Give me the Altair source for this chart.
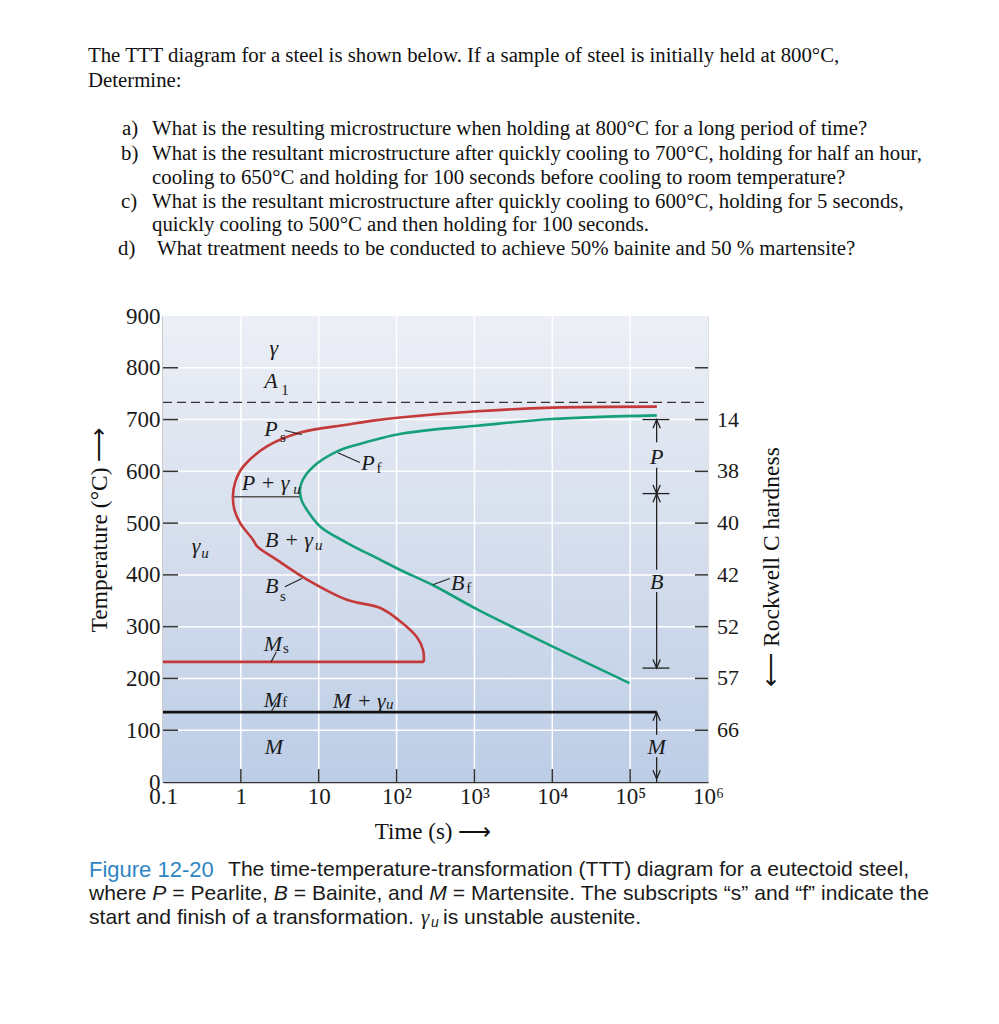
import altair as alt
import pandas as pd

# ---------------- data ----------------
# Pearlite start / bainite start curve (red), traced from upper right, round the nose, down to Ms
red_t = [2.2e5, 1.0e4, 1070, 110, 50, 23, 5.8, 2.16, 1.07, 0.85, 0.79, 0.83, 0.98, 1.43, 1.62, 2.9, 7.1, 23, 62, 110, 182, 219, 224]
red_T = [725, 723, 716, 704, 698, 690, 675, 648, 609, 580, 551, 525, 500, 468, 455, 429, 391, 352, 336, 311, 280, 255, 232]
# Pearlite finish / bainite finish curve (green)
green_t = [2.2e5, 1.0e4, 1070, 316, 110, 63, 32, 17, 8.5, 6.3, 5.75, 6.0, 7.1, 10.5, 23, 62, 110, 295, 1070, 1.0e4, 9.8e4]
green_T = [708, 701, 688, 681, 672, 664, 652, 638, 609, 585, 565, 545, 525, 493, 462, 429, 410, 380, 334, 262, 191]
A1_T = 733
Ms_T, Ms_end = 232, 224
Mf_T, Mf_end = 135, 2.19e5
nose_T, nose_t = 551, [0.79, 5.75]

time_ticks = [0.1, 1, 10, 100, 1000, 10000, 100000, 1000000]
time_labels = ["0.1", "1", "10", "10²", "10³", "10⁴", "10⁵", "10⁶"]
temp_ticks = [0, 100, 200, 300, 400, 500, 600, 700, 800, 900]
hard_T = [700, 600, 500, 400, 300, 200, 100]
hard_lbl = ["14", "38", "40", "42", "52", "57", "66"]

# labels inside the diagram: (text, time, temperature)
big_labels = [("γ", 2.66, 839), ("A", 2.43, 774), ("P", 2.43, 681), ("P", 42.9, 617),
              ("γ", 0.266, 455), ("B", 2.5, 379), ("B", 612, 385), ("M", 2.58, 267),
              ("M", 2.58, 159), ("M", 2.66, 68)]
left_labels = [("P + γ", 1.03, 578), ("B + γ", 2.04, 468), ("M + γ", 15.2, 157)]
sub_labels = [("1", 3.68, 758), ("s", 3.47, 667), ("f", 59.3, 607), ("s", 3.47, 360),
              ("f", 847, 375), ("s", 3.8, 258), ("f", 3.65, 154)]
sub_u = [(5.25, 566), (10.0, 457), (0.346, 443), (82, 150)]
leaders = [(3.68, 679, 6.08, 671), (17.6, 636, 33.8, 617), (3.68, 377, 6.08, 393),
           (292, 381, 483, 393), (2.45, 232, 2.85, 251), (2.45, 135, 2.85, 153)]

# microstructure bands on the right
ann_t = 2.19e5
ann_bar = [1.44e5, 3.2e5]
band_edges = [700, 557, 220]
band_segments = [(700, 656), (607, 557), (557, 410), (367, 220), (135, 91), (48, 0)]
band_labels = [("P", 627), ("B", 387), ("M", 68)]
arrow_up = [700, 557, 135]
arrow_down = [557, 220, 6]

# inward tick extents, in data units
left_tick_end = 0.156     # time reached by the left ticks
right_tick_start = 6.8e5  # time where the right ticks begin
bottom_tick_top = 25      # temperature reached by the bottom ticks

question = [
    ("The TTT diagram for a steel is shown below.  If a sample of steel is initially held at 800°C,", -75, -260),
    ("Determine:", -75, -235),
    ("a)", -41, -187), ("What is the resulting microstructure when holding at 800°C for a long period of time?", -11, -187),
    ("b)", -42, -162), ("What is the resultant microstructure after quickly cooling to 700°C, holding for half an hour,", -11, -162),
    ("cooling to 650°C and holding for 100 seconds before cooling to room temperature?", -11, -138),
    ("c)", -42, -114), ("What is the resultant microstructure after quickly cooling to 600°C, holding for 5 seconds,", -11, -114),
    ("quickly cooling to 500°C and then holding for 100 seconds.", -11, -91),
    ("d)", -45, -67), ("What treatment needs to be conducted to achieve 50% bainite and 50 % martensite?", -6, -67),
]
# caption pieces: (text, x, y, italic)
caption = [
    ("The time-temperature-transformation (TTT) diagram for a eutectoid steel,", 65, 554, False),
    ("where", -74, 578, False), ("P", -10.7, 578, True), ("= Pearlite,", 9.3, 578, False),
    ("B", 110.7, 578, True), ("= Bainite, and", 130.7, 578, False), ("M", 266.2, 578, True),
    ("= Martensite. The subscripts “s” and “f” indicate the", 289.7, 578, False),
    ("start and finish of a transformation.", -74, 602, False),
    ("is unstable austenite.", 280, 602, False),
]

# ---------------- styling ----------------
W, H = 545, 466
SERIF = "Liberation Serif"
SANS = "Liberation Sans"
RED = "#c43a3a"
GREEN = "#16a07a"
INK = "#1a1a1a"
FRAME = "#333333"

xs = alt.Scale(type="log", domain=[0.1, 1e6], nice=False)
ys = alt.Scale(domain=[0, 900], nice=False)

label_expr = "[" + ",".join("'%s'" % s for s in time_labels) + "][round(log(datum.value)/LN10)+1]"
xaxis = alt.Axis(values=time_ticks, labelExpr=label_expr, ticks=False, grid=False, title=None,
                 labelFlush=False, labelOverlap=False)
yaxis = alt.Axis(values=temp_ticks, ticks=False, grid=False, title=None,
                 labelFlush=False, labelOverlap=False)


def X(f="t"):
    return alt.X(f, type="quantitative", scale=xs, axis=xaxis)


def Y(f="T"):
    return alt.Y(f, type="quantitative", scale=ys, axis=yaxis)


gradient = alt.Gradient(gradient="linear", x1=0, x2=0, y1=0, y2=1,
                        stops=[alt.GradientStop(color="#eceff6", offset=0),
                               alt.GradientStop(color="#d3dcec", offset=0.55),
                               alt.GradientStop(color="#bccde6", offset=1)])

bg = alt.Chart(pd.DataFrame({"t": [0.1], "t2": [1e6], "T": [0], "T2": [900]})).mark_rect(
    fill=gradient).encode(x=X(), x2="t2", y=Y(), y2="T2")

inner_t = time_ticks[1:-1]
inner_T = temp_ticks[1:-1]
nT, nt = len(inner_T), len(inner_t)
vgrid = alt.Chart(pd.DataFrame({"t": inner_t, "T": [0] * nt, "T2": [900] * nt})).mark_rule(
    color="white", strokeWidth=1.5).encode(x=X(), y=Y(), y2="T2")
hgrid = alt.Chart(pd.DataFrame({"T": inner_T, "t": [0.1] * nT, "t2": [1e6] * nT})).mark_rule(
    color="white", strokeWidth=1.5).encode(y=Y(), x=X(), x2="t2")

bticks = alt.Chart(pd.DataFrame({"t": inner_t, "T": [0] * nt, "T2": [bottom_tick_top] * nt})).mark_rule(
    color=FRAME, strokeWidth=1.5).encode(x=X(), y=Y(), y2="T2")
lticks = alt.Chart(pd.DataFrame({"T": inner_T, "t": [0.1] * nT, "t2": [left_tick_end] * nT})).mark_rule(
    color=FRAME, strokeWidth=1.5).encode(y=Y(), x=X(), x2="t2")
rticks = alt.Chart(pd.DataFrame({"T": inner_T, "t": [right_tick_start] * nT, "t2": [1e6] * nT})).mark_rule(
    color=FRAME, strokeWidth=1.5).encode(y=Y(), x=X(), x2="t2")
rlabels = alt.Chart(pd.DataFrame({"T": hard_T, "lbl": hard_lbl})).mark_text(
    font=SERIF, fontSize=22, color=INK, align="left", baseline="middle").encode(
    y=Y(), x=alt.value(W + 9), text="lbl:N")

a1 = alt.Chart(pd.DataFrame({"t": [0.1], "t2": [1e6], "T": [A1_T]})).mark_rule(
    color=FRAME, strokeWidth=1.3, strokeDash=[9, 5]).encode(x=X(), x2="t2", y=Y())

red = alt.Chart(pd.DataFrame({"t": red_t, "T": red_T, "i": list(range(len(red_t)))})).mark_line(
    color=RED, strokeWidth=2.6, interpolate="catmull-rom").encode(x=X(), y=Y(), order="i:Q")
green = alt.Chart(pd.DataFrame({"t": green_t, "T": green_T, "i": list(range(len(green_t)))})).mark_line(
    color=GREEN, strokeWidth=2.6, interpolate="catmull-rom").encode(x=X(), y=Y(), order="i:Q")
ms = alt.Chart(pd.DataFrame({"t": [0.1], "t2": [Ms_end], "T": [Ms_T]})).mark_rule(
    color=RED, strokeWidth=2.6).encode(x=X(), x2="t2", y=Y())
mf = alt.Chart(pd.DataFrame({"t": [0.1], "t2": [Mf_end], "T": [Mf_T]})).mark_rule(
    color="#111111", strokeWidth=2.6).encode(x=X(), x2="t2", y=Y())
nose = alt.Chart(pd.DataFrame({"t": [nose_t[0]], "t2": [nose_t[1]], "T": [nose_T]})).mark_rule(
    color="#555555", strokeWidth=1.6).encode(x=X(), x2="t2", y=Y())

lead = alt.Chart(pd.DataFrame(leaders, columns=["t", "T", "t2", "T2"])).mark_rule(
    color="#222222", strokeWidth=1.1).encode(x=X(), x2="t2", y=Y(), y2="T2")

seg = alt.Chart(pd.DataFrame({"T": [a for a, b in band_segments], "T2": [b for a, b in band_segments],
                              "t": [ann_t] * len(band_segments)})).mark_rule(
    color="#222222", strokeWidth=1.3).encode(x=X(), y=Y(), y2="T2")
bars = alt.Chart(pd.DataFrame({"T": band_edges, "t": [ann_bar[0]] * 3, "t2": [ann_bar[1]] * 3})).mark_rule(
    color="#222222", strokeWidth=1.3).encode(x=X(), x2="t2", y=Y())
up = alt.Chart(pd.DataFrame({"T": arrow_up, "t": [ann_t] * 3})).mark_point(
    shape="M-0.42,1L0,0L0.42,1", size=300, filled=False, color="#222222", strokeWidth=1.3, opacity=1).encode(x=X(), y=Y())
down = alt.Chart(pd.DataFrame({"T": arrow_down, "t": [ann_t] * 3})).mark_point(
    shape="M-0.42,-1L0,0L0.42,-1", size=300, filled=False, color="#222222", strokeWidth=1.3, opacity=1).encode(x=X(), y=Y())
blabels = alt.Chart(pd.DataFrame({"lbl": [a for a, b in band_labels], "T": [b for a, b in band_labels],
                                  "t": [ann_t] * 3})).mark_text(
    font=SERIF, fontStyle="italic", fontSize=22, color=INK, baseline="middle").encode(x=X(), y=Y(), text="lbl:N")

big = alt.Chart(pd.DataFrame(big_labels, columns=["lbl", "t", "T"])).mark_text(
    font=SERIF, fontStyle="italic", fontSize=22, color=INK, baseline="middle").encode(x=X(), y=Y(), text="lbl:N")
leftl = alt.Chart(pd.DataFrame(left_labels, columns=["lbl", "t", "T"])).mark_text(
    font=SERIF, fontStyle="italic", fontSize=22, color=INK, baseline="middle", align="left").encode(
    x=X(), y=Y(), text="lbl:N")
subs = alt.Chart(pd.DataFrame(sub_labels, columns=["lbl", "t", "T"])).mark_text(
    font=SERIF, fontSize=15, color=INK, baseline="middle").encode(x=X(), y=Y(), text="lbl:N")
subu = alt.Chart(pd.DataFrame({"t": [a for a, b in sub_u], "T": [b for a, b in sub_u], "lbl": ["u"] * 4})).mark_text(
    font=SERIF, fontStyle="italic", fontSize=15, color=INK, baseline="middle").encode(x=X(), y=Y(), text="lbl:N")

layers = [bg, vgrid, hgrid, a1, bticks, lticks, rticks, nose, red, ms, green, mf, lead,
          seg, bars, up, down, blabels, big, leftl, subs, subu, rlabels]

one = pd.DataFrame({"k": [0]})


def txt(s, x, y, **kw):
    base = dict(font=SERIF, fontSize=20.8, color="#111111", align="left", baseline="middle")
    base.update(kw)
    return alt.Chart(one).mark_text(text=s, **base).encode(x=alt.value(x), y=alt.value(y))


for s, x, y in question:
    layers.append(txt(s, x, y))

# axis titles
layers.append(txt("Temperature (°C) ⟶", -63, 214, fontSize=23.5, align="center", angle=270))
layers.append(txt("Time (s) ⟶", 270, 516, fontSize=23, align="center"))
layers.append(txt("⟵ Rockwell C hardness", 609, 251, fontSize=23.5, align="center", angle=270))

# caption
layers.append(txt("Figure 12-20", -74, 554, font=SANS, fontSize=22, color="#2f86c3"))
for s, x, y, it in caption:
    if it:
        layers.append(txt(s, x, y, font=SANS, fontSize=21.1, color="#1a1a1a", fontStyle="italic"))
    else:
        layers.append(txt(s, x, y, font=SANS, fontSize=21.1, color="#1a1a1a"))
layers.append(txt("γ", 258, 602, font=SERIF, fontStyle="italic", fontSize=21, color="#1a1a1a"))
layers.append(txt("u", 268, 607, font=SANS, fontStyle="italic", fontSize=14, color="#1a1a1a"))

chart = alt.layer(*layers).properties(
    width=W, height=H,
    autosize=alt.AutoSizeParams(type="none"),
    padding={"left": 155, "top": 308, "right": 283, "bottom": 215},
).configure_view(stroke=FRAME, strokeWidth=1.5).configure(background="white").configure_axis(
    labelFont=SERIF, labelFontSize=23, labelColor=INK, labelPadding=3,
    domainColor=FRAME, domainWidth=1.5, ticks=False, grid=False)

chart.save("out.html", embed_options={"renderer": "svg", "actions": False})
